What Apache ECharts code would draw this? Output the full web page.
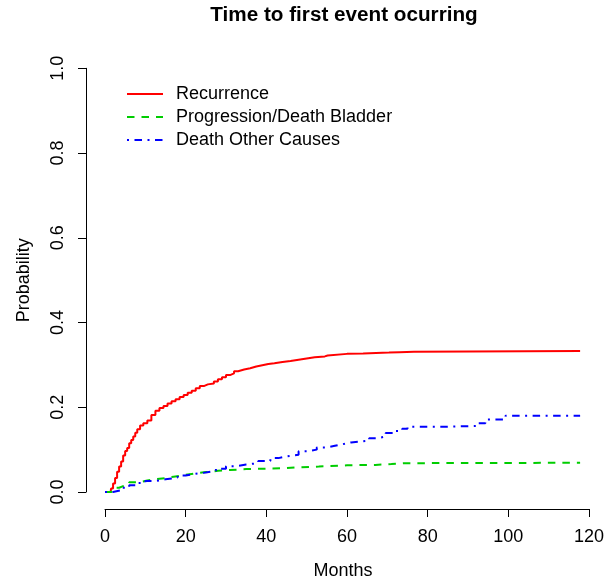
<!DOCTYPE html>
<html>
<head>
<meta charset="utf-8">
<script src="https://cdn.jsdelivr.net/npm/echarts@6/dist/echarts.min.js"></script>
<style>
  html, body { margin: 0; padding: 0; background: #fff; }
  #chart { width: 607px; height: 585px; }
</style>
</head>
<body>
<div id="chart"></div>
<script>
// Cumulative incidence of the first event, by cause (months, probability)
const seriesNames = ['Recurrence', 'Progression/Death Bladder', 'Death Other Causes'];

const recurrenceTime = [0, 1.4, 1.5, 2.0, 2.5, 3.0, 3.5, 4.0, 4.5, 5.0, 5.5, 6.0, 6.5, 7.0, 7.5, 8.0, 8.7, 9.5, 10.5, 11.5, 12.5, 13.5, 14.5, 15.5, 16.5, 17.5, 18.5, 19.5, 20.5, 21.5, 22.5, 23.5, 24.5, 25.5, 27.0, 28.0, 29.0, 30.0, 31.0, 32.0, 33.0, 34.5, 36.0, 37.5, 39.0, 40.5, 42.0, 44.0, 46.0, 48.0, 50.0, 52.0, 54.5, 55.2, 60.0, 64.0, 67.2, 70.4, 73.0, 76.6, 117.8];
const recurrenceProb = [0, 0, 0.008, 0.020, 0.033, 0.048, 0.060, 0.072, 0.086, 0.097, 0.104, 0.115, 0.123, 0.131, 0.140, 0.148, 0.157, 0.162, 0.169, 0.182, 0.192, 0.198, 0.203, 0.209, 0.214, 0.219, 0.224, 0.229, 0.234, 0.239, 0.245, 0.250, 0.254, 0.256, 0.261, 0.266, 0.271, 0.276, 0.280, 0.285, 0.289, 0.292, 0.296, 0.299, 0.302, 0.304, 0.307, 0.309, 0.312, 0.315, 0.318, 0.320, 0.322, 0.326, 0.327, 0.328, 0.329, 0.330, 0.331, 0.333, 0.333];

const progressionTime = [0, 1.5, 2.5, 3.5, 4.5, 6.0, 8.5, 10.5, 12.5, 15.0, 17.0, 19.0, 21.0, 23.0, 25.0, 28.0, 31.0, 35.0, 44.0, 47.0, 53.0, 60.0, 67.0, 71.0, 74.5, 117.8];
const progressionProb = [0, 0.004, 0.010, 0.014, 0.018, 0.023, 0.027, 0.030, 0.033, 0.036, 0.039, 0.042, 0.045, 0.047, 0.050, 0.052, 0.054, 0.056, 0.058, 0.060, 0.063, 0.064, 0.066, 0.068, 0.069, 0.069];

const otherTime = [0, 2.0, 4.0, 6.0, 8.0, 10.0, 12.5, 15.0, 18.0, 20.0, 22.5, 25.0, 27.5, 30.0, 32.5, 35.0, 38.0, 41.0, 43.0, 45.0, 48.0, 50.0, 52.5, 55.0, 57.0, 59.0, 61.0, 65.5, 67.6, 69.6, 71.5, 73.7, 75.0, 84.0, 92.5, 94.3, 99.3, 117.8];
const otherProb = [0, 0.004, 0.010, 0.016, 0.021, 0.026, 0.030, 0.034, 0.039, 0.043, 0.046, 0.050, 0.055, 0.061, 0.065, 0.068, 0.073, 0.080, 0.084, 0.088, 0.096, 0.100, 0.105, 0.109, 0.113, 0.117, 0.121, 0.127, 0.131, 0.139, 0.144, 0.149, 0.154, 0.156, 0.162, 0.171, 0.180, 0.180];

const xTicks = [0, 20, 40, 60, 80, 100, 120];
const yTicks = [0.0, 0.2, 0.4, 0.6, 0.8, 1.0];

const FONT = '"Liberation Sans", Arial, Helvetica, sans-serif';

function pairs(t, p) { return t.map((v, i) => [v, p[i]]); }

const chart = echarts.init(document.getElementById('chart'), null, { renderer: 'canvas' });

const lineSeries = (name, t, p, color, dash) => ({
  name: name,
  type: 'line',
  step: 'end',
  showSymbol: false,
  symbol: 'none',
  data: pairs(t, p),
  lineStyle: { color: color, width: 2, type: dash },
  itemStyle: { color: color },
  animation: false
});

chart.setOption({
  animation: false,
  backgroundColor: '#ffffff',
  textStyle: { fontFamily: FONT },
  graphic: [{
    type: 'text',
    x: 344,
    y: 4.5,
    style: {
      text: 'Time to first event ocurring',
      font: 'bold 20.7px ' + FONT,
      fill: '#000',
      textAlign: 'center',
      textVerticalAlign: 'top'
    }
  }],
  legend: {
    orient: 'vertical',
    left: 121,
    top: 77.5,
    itemWidth: 36,
    itemHeight: 23,
    itemGap: 0,
    itemStyle: { opacity: 0 },
    textStyle: { fontSize: 18, color: '#000', fontFamily: FONT, lineHeight: 23, padding: [0, 0, 0, 8] },
    data: seriesNames
  },
  grid: { left: 105, right: 16.5, top: 68.3, bottom: 91, containLabel: false },
  xAxis: {
    type: 'value',
    min: xTicks[0],
    max: xTicks[xTicks.length - 1],
    interval: 20,
    offset: 17,
    name: 'Months',
    nameLocation: 'middle',
    nameGap: 53,
    nameTextStyle: { fontSize: 18, color: '#000', fontFamily: FONT, padding: [0, 8, 0, 0] },
    axisLine: { show: true, onZero: false, lineStyle: { color: '#000', width: 1 } },
    axisTick: { show: true, length: 8, lineStyle: { color: '#000' } },
    axisLabel: { color: '#000', fontSize: 18, margin: 19, fontFamily: FONT },
    splitLine: { show: false }
  },
  yAxis: {
    type: 'value',
    min: yTicks[0],
    max: yTicks[yTicks.length - 1],
    interval: 0.2,
    offset: 19,
    name: 'Probability',
    nameLocation: 'middle',
    nameGap: 53,
    nameRotate: 90,
    nameTextStyle: { fontSize: 18, color: '#000', fontFamily: FONT },
    axisLine: { show: true, onZero: false, lineStyle: { color: '#000', width: 1 } },
    axisTick: { show: true, length: 8, lineStyle: { color: '#000' } },
    axisLabel: {
      color: '#000', fontSize: 18, rotate: 90, margin: 19, fontFamily: FONT,
      formatter: v => v.toFixed(1)
    },
    splitLine: { show: false }
  },
  series: [
    lineSeries(seriesNames[0], recurrenceTime, recurrenceProb, '#ff0000', 'solid'),
    lineSeries(seriesNames[1], progressionTime, progressionProb, '#00cd00', [7.5, 7]),
    lineSeries(seriesNames[2], otherTime, otherProb, '#0000ff', [2, 5.5, 7.5, 5.5])
  ]
});
</script>
</body>
</html>
